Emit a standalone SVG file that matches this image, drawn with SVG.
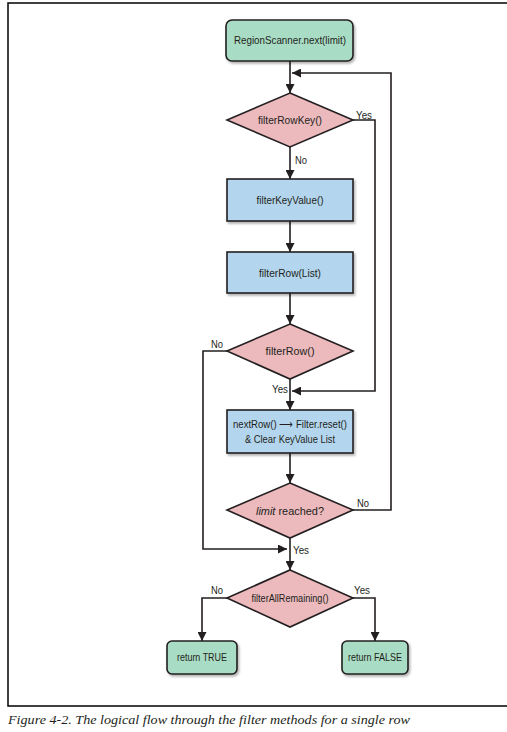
<svg xmlns="http://www.w3.org/2000/svg" width="507" height="732" viewBox="0 0 507 732">
<style>
.frame{fill:none;stroke:#000;stroke-width:1.5}
.term{fill:#a9dcc4;stroke:#231f20;stroke-width:1.6}
.proc{fill:#b3d6ee;stroke:#231f20;stroke-width:1.6}
.dec{fill:#ecb9bc;stroke:#231f20;stroke-width:1.6}
.con{fill:none;stroke:#231f20;stroke-width:1.6}
.t{font-family:"Liberation Sans",Arial,sans-serif;font-size:11px;fill:#231f20;text-anchor:middle}
.l{font-family:"Liberation Sans",Arial,sans-serif;font-size:11px;fill:#231f20}
.cap{font-family:"Liberation Serif","Times New Roman",serif;font-size:13.5px;font-style:italic;fill:#231f20}
</style>
<defs>
<marker id="ah" markerUnits="userSpaceOnUse" markerWidth="9" markerHeight="9" viewBox="0 0 10 10" refX="10" refY="5" orient="auto">
<path d="M0,0 L10,5 L0,10 z" fill="#231f20"/>
</marker>
<filter id="sh" x="-10%" y="-10%" width="130%" height="140%">
<feDropShadow dx="1.5" dy="2" stdDeviation="1.2" flood-color="#000" flood-opacity="0.3"/>
</filter>
</defs>
<path class="frame" d="M507,3 H8 V706 H507"/>
<g id="connectors">
<path class="con" d="M290,61 V93" marker-end="url(#ah)"/>
<path class="con" d="M353,510 H391 V73 H292" marker-end="url(#ah)"/>
<path class="con" d="M353,120 H375 V391 H292" marker-end="url(#ah)"/>
<path class="con" d="M290,147 V179" marker-end="url(#ah)"/>
<path class="con" d="M290,221 V252" marker-end="url(#ah)"/>
<path class="con" d="M290,293 V324" marker-end="url(#ah)"/>
<path class="con" d="M290,379 V410" marker-end="url(#ah)"/>
<path class="con" d="M227,351 H203 V549 H287" marker-end="url(#ah)"/>
<path class="con" d="M290,453 V483" marker-end="url(#ah)"/>
<path class="con" d="M290,538 V570" marker-end="url(#ah)"/>
<path class="con" d="M227,598 H202 V641" marker-end="url(#ah)"/>
<path class="con" d="M353,598 H375 V641" marker-end="url(#ah)"/>
<text class="l" x="356" y="119" textLength="16" lengthAdjust="spacingAndGlyphs">Yes</text>
<text class="l" x="295" y="164" textLength="12" lengthAdjust="spacingAndGlyphs">No</text>
<text class="l" x="211" y="348" textLength="12" lengthAdjust="spacingAndGlyphs">No</text>
<text class="l" x="272" y="393" textLength="16" lengthAdjust="spacingAndGlyphs">Yes</text>
<text class="l" x="357" y="507" textLength="12" lengthAdjust="spacingAndGlyphs">No</text>
<text class="l" x="293" y="554" textLength="16" lengthAdjust="spacingAndGlyphs">Yes</text>
<text class="l" x="211" y="594" textLength="12" lengthAdjust="spacingAndGlyphs">No</text>
<text class="l" x="354" y="594" textLength="16" lengthAdjust="spacingAndGlyphs">Yes</text>
</g>
<g id="start">
<rect class="term" x="226" y="20" width="127" height="41" rx="6" filter="url(#sh)"/>
<text class="t" x="290" y="44" textLength="112" lengthAdjust="spacingAndGlyphs">RegionScanner.next(limit)</text>
</g>
<g id="filterRowKey">
<polygon class="dec" points="290,93 353,120 290,147 227,120"/>
<text class="t" x="290" y="124" textLength="64" lengthAdjust="spacingAndGlyphs">filterRowKey()</text>
</g>
<g id="filterKeyValue">
<rect class="proc" x="227" y="179" width="126" height="42" filter="url(#sh)"/>
<text class="t" x="290" y="204" textLength="67" lengthAdjust="spacingAndGlyphs">filterKeyValue()</text>
</g>
<g id="filterRowList">
<rect class="proc" x="227" y="252" width="126" height="41" filter="url(#sh)"/>
<text class="t" x="290" y="277" textLength="62" lengthAdjust="spacingAndGlyphs">filterRow(List)</text>
</g>
<g id="filterRow">
<polygon class="dec" points="290,324 353,351 290,379 227,351"/>
<text class="t" x="290" y="355" textLength="49" lengthAdjust="spacingAndGlyphs">filterRow()</text>
</g>
<g id="nextRow">
<rect class="proc" x="227" y="410" width="126" height="43" filter="url(#sh)"/>
<text class="t" x="290" y="428" textLength="114" lengthAdjust="spacingAndGlyphs">nextRow() ⟶ Filter.reset()</text>
<text class="t" x="290" y="443" textLength="90" lengthAdjust="spacingAndGlyphs">&amp; Clear KeyValue List</text>
</g>
<g id="limitReached">
<polygon class="dec" points="290,483 353,510 290,538 227,510"/>
<text class="t" x="290" y="515" textLength="68" lengthAdjust="spacingAndGlyphs"><tspan font-style="italic">limit</tspan> reached?</text>
</g>
<g id="filterAllRemaining">
<polygon class="dec" points="290,570 353,598 290,627 227,598"/>
<text class="t" x="290" y="602" textLength="77" lengthAdjust="spacingAndGlyphs">filterAllRemaining()</text>
</g>
<g id="returnTrue">
<rect class="term" x="167" y="641" width="70" height="33" rx="5" filter="url(#sh)"/>
<text class="t" x="202" y="661" textLength="50" lengthAdjust="spacingAndGlyphs">return TRUE</text>
</g>
<g id="returnFalse">
<rect class="term" x="342" y="641" width="66" height="33" rx="5" filter="url(#sh)"/>
<text class="t" x="375" y="661" textLength="54" lengthAdjust="spacingAndGlyphs">return FALSE</text>
</g>
<text class="cap" x="8" y="724" textLength="402" lengthAdjust="spacingAndGlyphs">Figure 4-2. The logical flow through the filter methods for a single row</text>
</svg>
